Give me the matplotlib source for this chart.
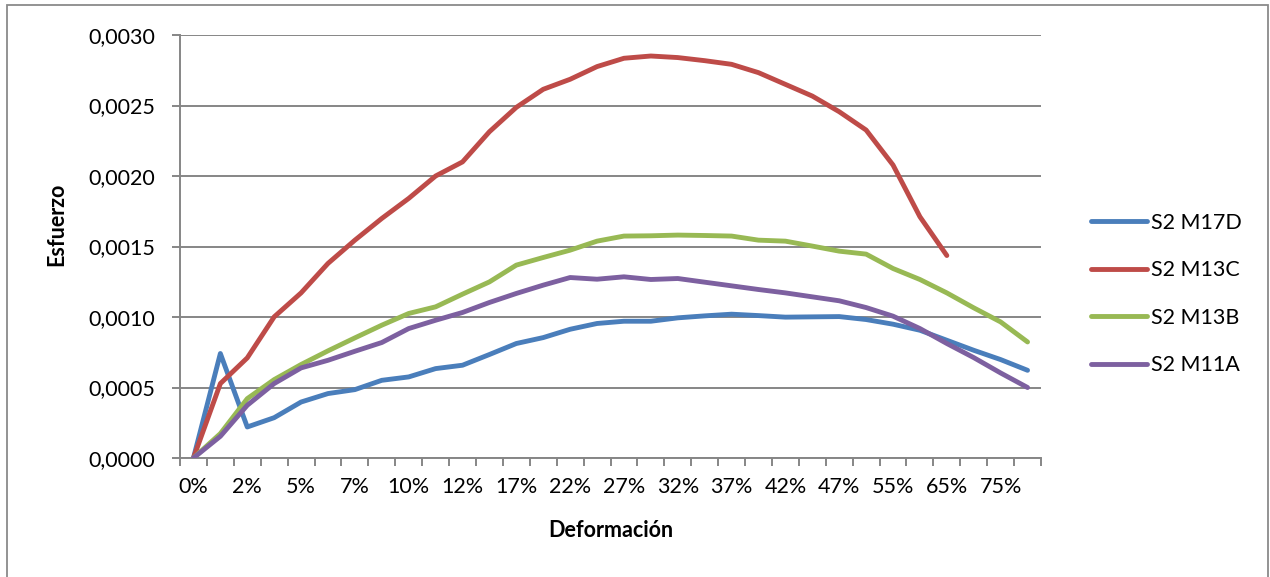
import matplotlib
matplotlib.use("Agg")
import matplotlib.pyplot as plt
from matplotlib.patches import Rectangle
from matplotlib.ticker import FuncFormatter, FixedLocator

plt.rcParams["font.family"] = ["Lato", "DejaVu Sans"]

# categories (x axis); only every other one gets a label in the chart
deformacion = ["0%", "1%", "2%", "4%", "5%", "6%", "7%", "9%", "10%", "11%",
               "12%", "15%", "17%", "20%", "22%", "25%", "27%", "30%", "32%", "35%",
               "37%", "40%", "42%", "45%", "47%", "50%", "55%", "60%", "65%", "70%",
               "75%", "80%"]

s2_m17d = [0.0, 0.000741, 0.000220, 0.000286, 0.000397, 0.000457, 0.000485, 0.000551,
           0.000575, 0.000634, 0.000658, 0.000734, 0.000812, 0.000854, 0.000913, 0.000954,
           0.000970, 0.000970, 0.000994, 0.001008, 0.001020, 0.001010, 0.000999, 0.001001,
           0.001003, 0.000982, 0.000949, 0.000906, 0.000835, 0.000764, 0.000698, 0.000622]

s2_m13c = [0.0, 0.000528, 0.000710, 0.001001, 0.001171, 0.001380, 0.001545, 0.001699,
           0.001841, 0.002000, 0.002100, 0.002314, 0.002487, 0.002615, 0.002686, 0.002776,
           0.002835, 0.002851, 0.002840, 0.002818, 0.002792, 0.002733, 0.002650, 0.002567,
           0.002456, 0.002326, 0.002078, 0.001711, 0.001436]

s2_m13b = [0.0, 0.000173, 0.000421, 0.000556, 0.000663, 0.000760, 0.000852, 0.000942,
           0.001025, 0.001072, 0.001162, 0.001249, 0.001368, 0.001422, 0.001474, 0.001538,
           0.001574, 0.001576, 0.001581, 0.001578, 0.001574, 0.001545, 0.001538, 0.001503,
           0.001467, 0.001446, 0.001344, 0.001266, 0.001171, 0.001065, 0.000965, 0.000823]

s2_m11a = [0.0, 0.000154, 0.000374, 0.000528, 0.000639, 0.000693, 0.000757, 0.000819,
           0.000918, 0.000977, 0.001032, 0.001103, 0.001167, 0.001226, 0.001280, 0.001268,
           0.001285, 0.001266, 0.001273, 0.001247, 0.001221, 0.001195, 0.001171, 0.001143,
           0.001115, 0.001067, 0.001006, 0.000918, 0.000812, 0.000712, 0.000603, 0.000500]

series = [
    ("S2 M17D", s2_m17d, "#4A7EBB"),
    ("S2 M13C", s2_m13c, "#BE4B48"),
    ("S2 M13B", s2_m13b, "#98B954"),
    ("S2 M11A", s2_m11a, "#7D60A0"),
]

GRID = "#868686"
FS = 15.5

fig = plt.figure(figsize=(12.7, 5.77), dpi=100)
ax = fig.add_axes([180 / 1270, 1 - 458 / 577, (1041 - 180) / 1270, (458 - 35) / 577])

for name, vals, color in series:
    ax.plot(range(len(vals)), vals, color=color, lw=3.5, label=name,
            solid_capstyle="round", solid_joinstyle="round", zorder=3)

ax.set_xlim(-0.5, len(deformacion) - 0.5)
ax.set_ylim(0, 0.003)
ax.set_yticks([0.0005 * i for i in range(7)])
ax.yaxis.set_major_formatter(FuncFormatter(lambda v, p: f"{v:.4f}".replace(".", ",")))
ax.grid(axis="y", color=GRID, lw=1.4, zorder=0)

# labels on every other category, tick marks on category boundaries
ax.set_xticks(range(0, len(deformacion), 2))
ax.set_xticklabels(deformacion[::2])
ax.xaxis.set_minor_locator(FixedLocator([i - 0.5 for i in range(len(deformacion) + 1)]))
ax.tick_params(axis="x", which="major", length=0, pad=14, labelsize=FS)
ax.tick_params(axis="x", which="minor", length=6, width=1.4, color=GRID, direction="out")
ax.tick_params(axis="y", length=6, width=1.4, color=GRID, pad=12, labelsize=FS)

for side in ("top", "right"):
    ax.spines[side].set_visible(False)
for side in ("left", "bottom"):
    ax.spines[side].set_color(GRID)
    ax.spines[side].set_linewidth(1.4)

ax.set_xlabel("Deformación", fontsize=FS, fontweight="bold", labelpad=16)
fig.text(57 / 1270, 1 - 224 / 577, "Esfuerzo", rotation=90, fontsize=FS,
         fontweight="bold", ha="center", va="center")

fig.legend(loc="upper left", bbox_to_anchor=(1080 / 1270, 1 - 202 / 577),
           frameon=False, fontsize=FS, handlelength=2.6, handletextpad=0.22,
           labelspacing=1.28, borderpad=0)

# outer chart border
fig.add_artist(Rectangle((7 / 1270, -0.02), (1268 - 7) / 1270, 1.02 - 5 / 577,
                         transform=fig.transFigure, fill=False, edgecolor="#8a8a8a",
                         lw=1.3, clip_on=False))

fig.savefig("out.png", dpi=100)
